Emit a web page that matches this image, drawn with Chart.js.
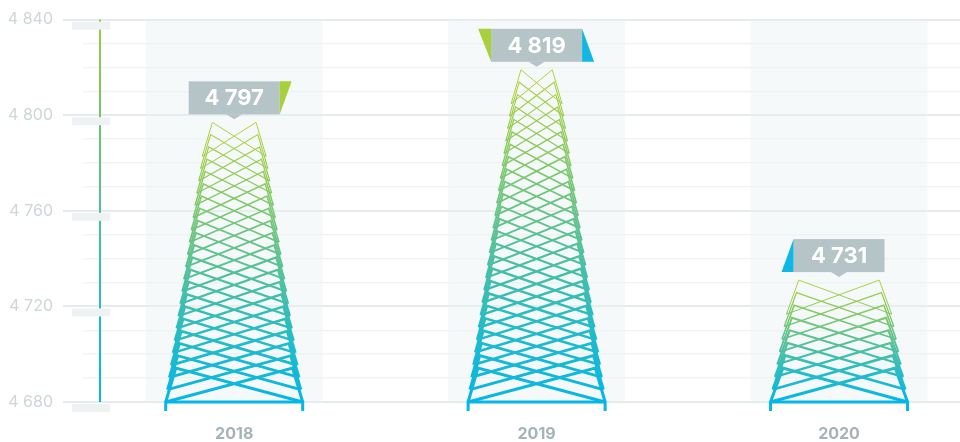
<!DOCTYPE html>
<html>
<head>
<meta charset="utf-8">
<script src="https://cdn.jsdelivr.net/npm/chart.js@4"></script>
<style>
html,body{margin:0;padding:0;background:#fff;overflow:hidden;}
#wrap{width:960px;height:442px;}
</style>
</head>
<body>
<div id="wrap"><canvas id="c" width="960" height="442"></canvas></div>
<script>
// ---- data ----
const years = ['2018', '2019', '2020'];
const values = [4797, 4819, 4731];
const yMin = 4680;
const yMax = 4840;
const yMajorStep = 40;
const yMinorStep = 10;

// ---- style ----
const LIME = '#a9cf3a';
const CYAN = '#10b6e4';
const flagLeft = [null, LIME, CYAN];
const flagRight = [LIME, CYAN, null];

function fmt(v) {
  return String(Math.round(v)).replace(/\B(?=(\d{3})+(?!\d))/g, ' ');
}

function towerGeom(chart, i) {
  const xs = chart.scales.x, ys = chart.scales.y;
  const meta = chart.getDatasetMeta(0);
  const bar = meta.data[i];
  const cx = xs.getPixelForValue(i);
  const yTop = ys.getPixelForValue(values[i]);
  const yBase = ys.getPixelForValue(yMin);
  const W = (bar && isFinite(bar.width) ? bar.width : 137) / 2;
  return { cx, yTop, yBase, W };
}

const decoPlugin = {
  id: 'deco',
  beforeDatasetsDraw(chart) {
    const ctx = chart.ctx, ca = chart.chartArea;
    ctx.save();
    ctx.fillStyle = 'rgba(236,241,241,0.45)';
    values.forEach((v, i) => {
      const g = towerGeom(chart, i);
      ctx.fillRect(g.cx - 88.5, ca.top, 177, ca.bottom - ca.top);
    });
    ctx.restore();
  },
  afterDatasetsDraw(chart) {
    const ctx = chart.ctx;
    values.forEach((v, i) => {
      const { cx, yTop, yBase, W } = towerGeom(chart, i);
      const H = yBase - yTop;
      const h = 34;
      const n = Math.max(2, Math.round((H - h) / 12.4) + 1);
      const dy = (H - h) / (n - 1);
      const R = 10 + 0.117 * (H + h);
      const wTop = W - R;
      const env = R / (H + h);
      const grad = ctx.createLinearGradient(0, yTop, 0, yBase);
      grad.addColorStop(0, '#b3d332');
      grad.addColorStop(0.45, '#62c38a');
      grad.addColorStop(0.8, '#1fbbcc');
      grad.addColorStop(1, '#05b6e6');
      ctx.save();
      ctx.strokeStyle = grad;
      ctx.lineJoin = 'miter';
      for (let k = 0; k < n; k++) {
        const y = yTop + k * dy;
        const w = wTop + env * (y - yTop);
        const wb = w + 2 * env * h;
        ctx.lineWidth = 1 + 2 * (k / (n - 1));
        ctx.beginPath();
        ctx.moveTo(cx - wb, y + h);
        ctx.lineTo(cx - w, y);
        ctx.lineTo(cx + wb, y + h);
        ctx.moveTo(cx + wb, y + h);
        ctx.lineTo(cx + w, y);
        ctx.lineTo(cx - wb, y + h);
        ctx.stroke();
      }
      ctx.strokeStyle = '#05b6e6';
      ctx.lineWidth = 3;
      ctx.beginPath();
      ctx.moveTo(cx - W, yBase);
      ctx.lineTo(cx + W, yBase);
      ctx.moveTo(cx - W, yBase - 1);
      ctx.lineTo(cx - W, yBase + 9);
      ctx.moveTo(cx + W, yBase - 1);
      ctx.lineTo(cx + W, yBase + 9);
      ctx.stroke();
      ctx.restore();

      // label box
      const bw = 91, bh = 33;
      const bBottom = yTop - 8;
      const bx = cx - bw / 2, by = bBottom - bh;
      ctx.save();
      ctx.fillStyle = '#b4c4c7';
      ctx.fillRect(bx, by, bw, bh);
      ctx.beginPath();
      ctx.moveTo(cx - 8, bBottom);
      ctx.lineTo(cx + 8, bBottom);
      ctx.lineTo(cx, bBottom + 5);
      ctx.closePath();
      ctx.fill();
      if (flagRight[i]) {
        ctx.fillStyle = flagRight[i];
        ctx.beginPath();
        if (i === 0) {
          ctx.moveTo(bx + bw, by);
          ctx.lineTo(bx + bw + 12, by);
          ctx.lineTo(bx + bw, by + bh);
        } else {
          ctx.moveTo(bx + bw, by);
          ctx.lineTo(bx + bw + 12, by + bh);
          ctx.lineTo(bx + bw, by + bh);
        }
        ctx.closePath();
        ctx.fill();
      }
      if (flagLeft[i]) {
        ctx.fillStyle = flagLeft[i];
        ctx.beginPath();
        if (i === 1) {
          ctx.moveTo(bx - 13, by);
          ctx.lineTo(bx, by);
          ctx.lineTo(bx, by + bh);
        } else {
          ctx.moveTo(bx, by);
          ctx.lineTo(bx, by + bh);
          ctx.lineTo(bx - 12, by + bh);
        }
        ctx.closePath();
        ctx.fill();
      }
      ctx.fillStyle = '#ffffff';
      ctx.font = 'bold 22px Inter, "Open Sans", sans-serif';
      ctx.textAlign = 'center';
      ctx.textBaseline = 'middle';
      ctx.fillText(fmt(values[i]), cx, by + bh / 2 + 1);
      ctx.restore();
    });
  },
  afterDraw(chart) {
    const ctx = chart.ctx, ca = chart.chartArea;
    const ys = chart.scales.y;
    ctx.save();
    const g = ctx.createLinearGradient(0, ca.top, 0, ca.bottom);
    g.addColorStop(0, '#9bcb3c');
    g.addColorStop(0.5, '#4cc199');
    g.addColorStop(1, '#00b7ea');
    ctx.strokeStyle = g;
    ctx.lineWidth = 2;
    ctx.beginPath();
    ctx.moveTo(100, ca.top);
    ctx.lineTo(100, ca.bottom);
    ctx.stroke();
    ctx.fillStyle = '#eff2f3';
    for (let v = yMin; v <= yMax; v += yMajorStep) {
      const py = ys.getPixelForValue(v);
      ctx.fillRect(72, py + 2, 38, 8);
    }
    ctx.restore();
  }
};

new Chart(document.getElementById('c'), {
  type: 'bar',
  data: {
    datasets: [{
      data: values.map((v, i) => ({ x: i, y: v })),
      backgroundColor: 'rgba(0,0,0,0)',
      borderWidth: 0,
      barThickness: 137
    }]
  },
  options: {
    responsive: false,
    animation: false,
    events: [],
    layout: { padding: { top: 10, left: 0, right: 0, bottom: 0 } },
    plugins: { legend: { display: false }, tooltip: { enabled: false } },
    scales: {
      x: {
        type: 'linear',
        min: -0.5,
        max: 2.4,
        offset: false,
        grid: { display: false, drawTicks: false, offset: false },
        border: { display: false },
        afterBuildTicks(scale) {
          scale.ticks = years.map((_, i) => ({ value: i }));
        },
        afterFit(scale) { scale.height = 40; },
        ticks: {
          autoSkip: false,
          maxRotation: 0,
          padding: 23,
          color: '#a5b4b8',
          font: { family: 'Inter, "Open Sans", sans-serif', size: 16, weight: 'bold' },
          callback: (v) => years[v] ?? ''
        }
      },
      y: {
        min: yMin,
        max: yMax,
        afterFit(scale) { scale.width = 83; },
        border: { display: false },
        grid: {
          drawTicks: true,
          tickLength: 20,
          color: (c) => (c.tick && c.tick.value % yMajorStep === 0) ? '#e5eaec' : '#f1f3f4',
          lineWidth: (c) => (c.tick && c.tick.value % yMajorStep === 0) ? 2 : 1.5,
          tickColor: (c) => (c.tick && c.tick.value % yMajorStep === 0) ? '#e5eaec' : 'rgba(0,0,0,0)',
          tickWidth: 2
        },
        ticks: {
          stepSize: yMinorStep,
          autoSkip: false,
          padding: 10,
          color: '#cdd6d9',
          font: { family: 'Inter, "Open Sans", sans-serif', size: 16 },
          callback: (v) => (v % yMajorStep === 0) ? fmt(v) : ''
        }
      }
    }
  },
  plugins: [decoPlugin]
});
</script>
</body>
</html>
